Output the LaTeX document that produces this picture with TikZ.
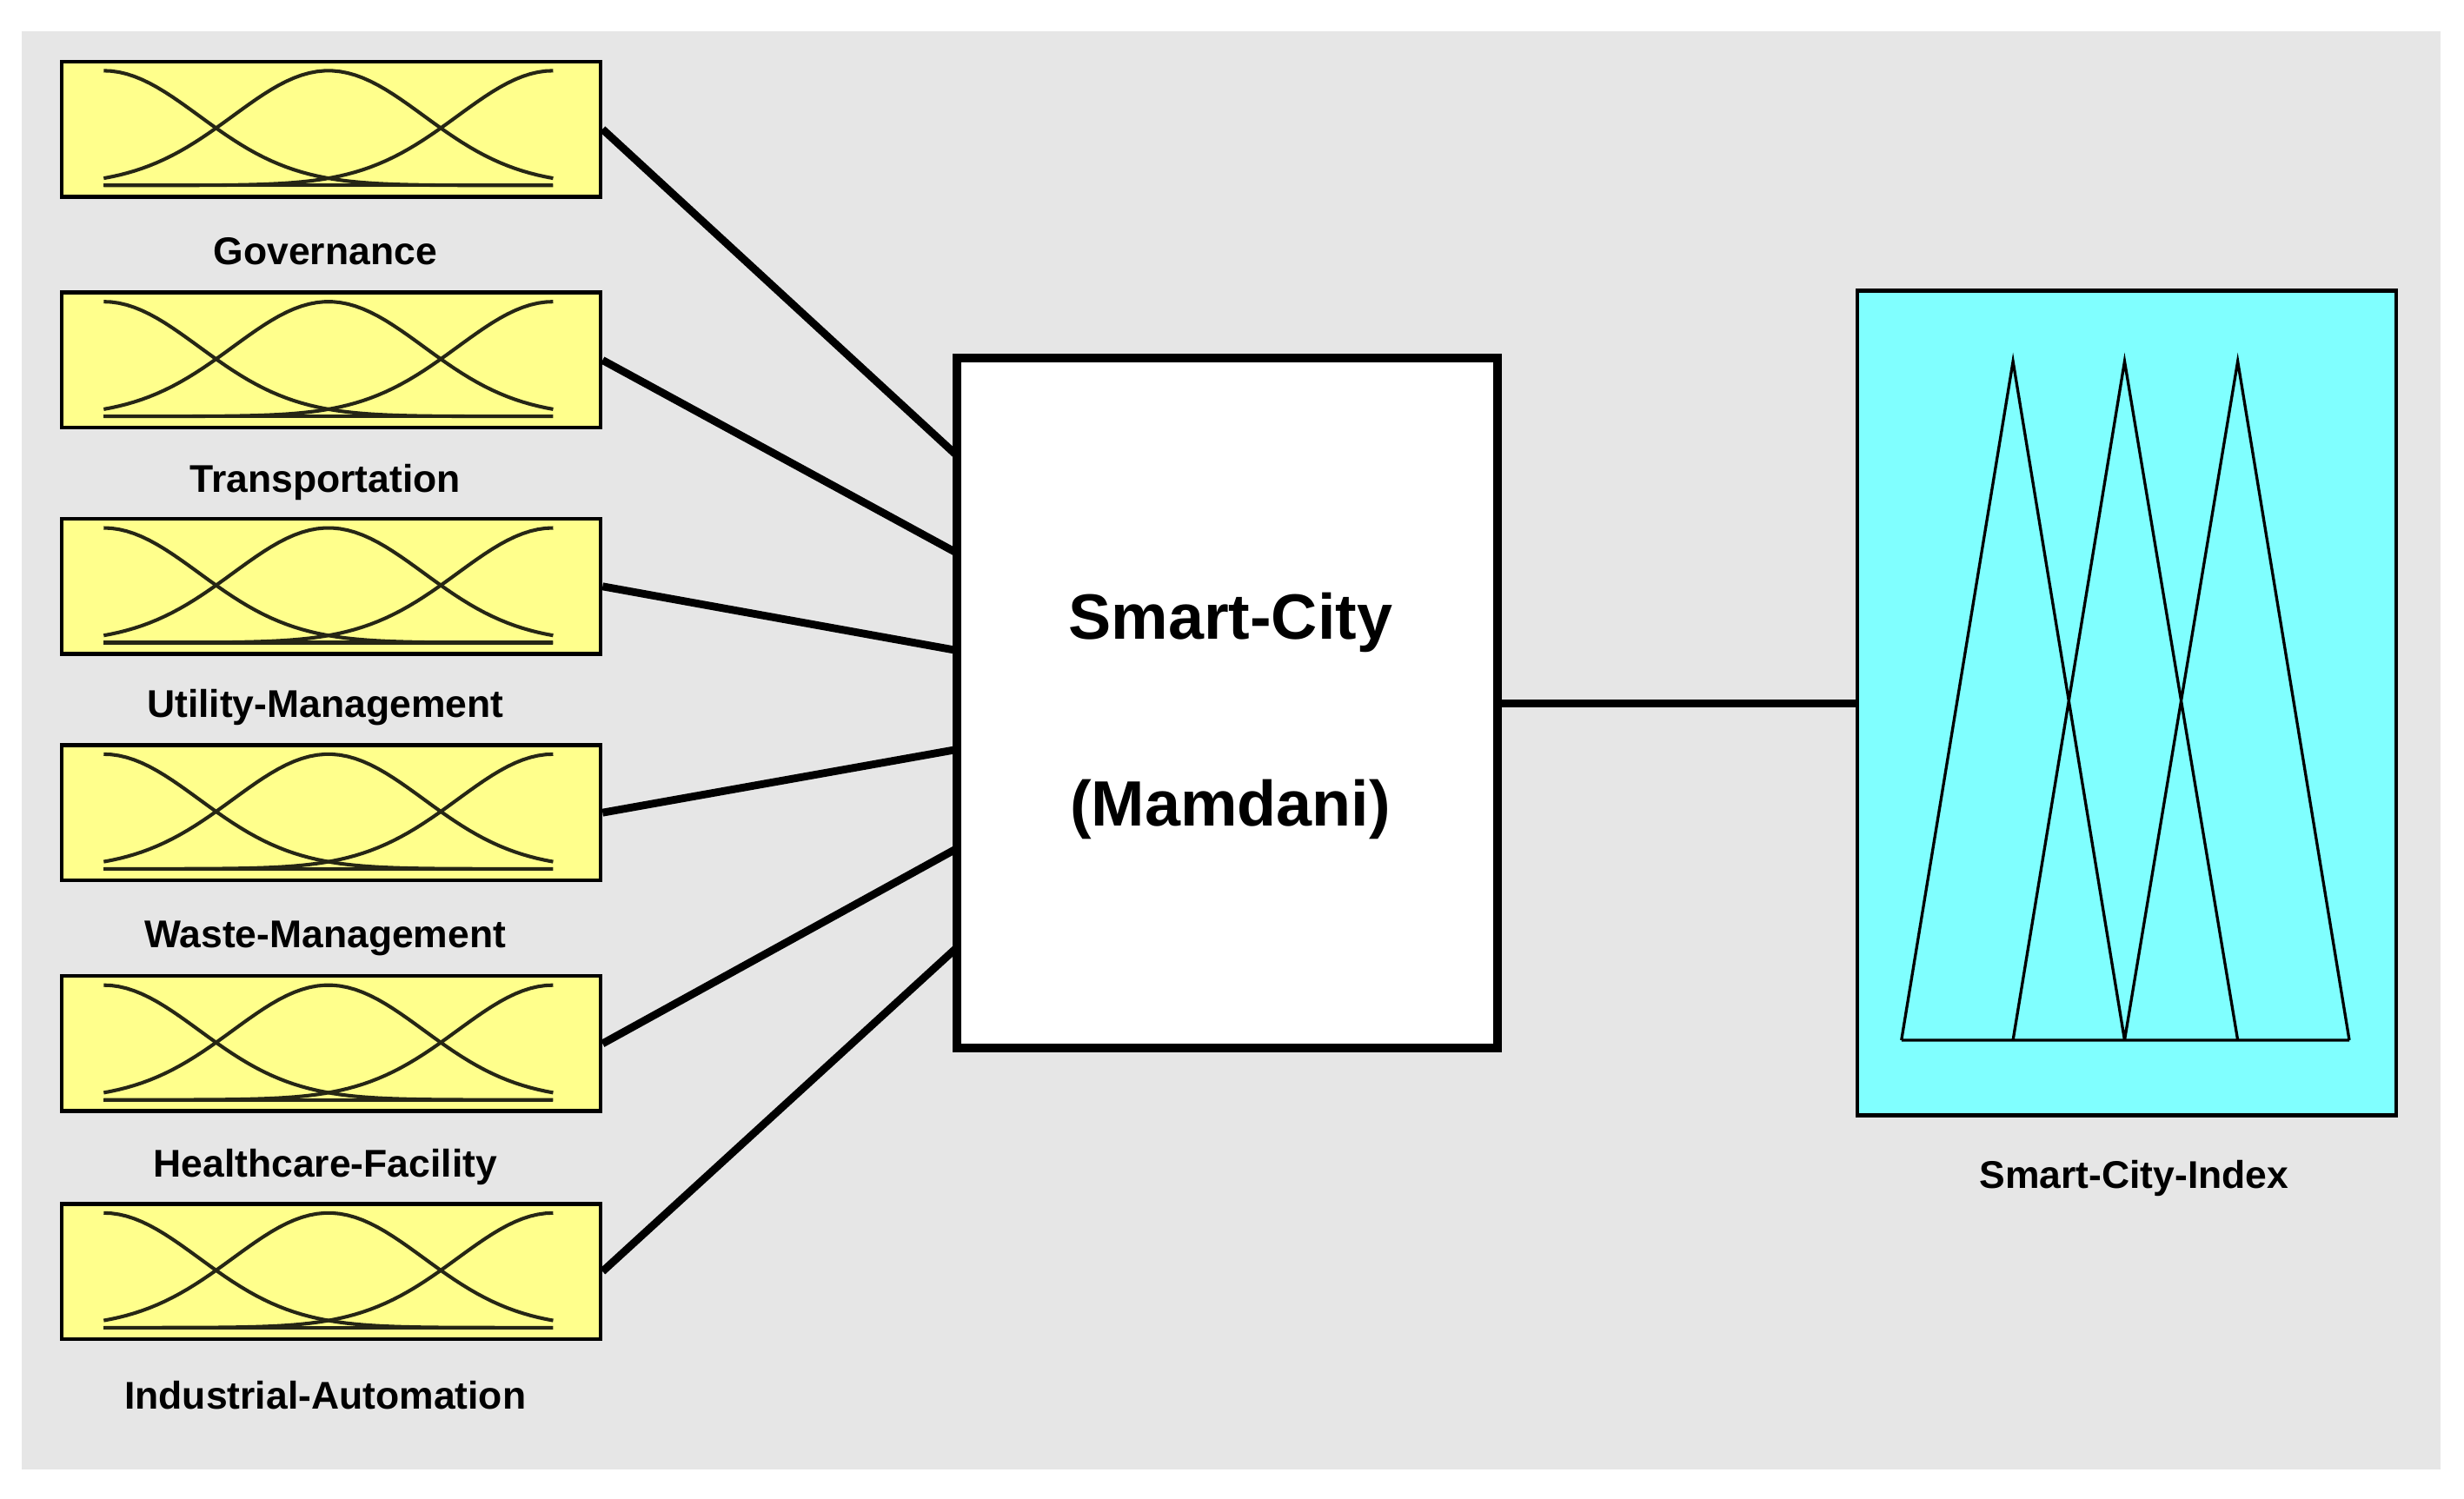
\documentclass[tikz,border=0pt]{standalone}
\usepackage{fontspec}
\setmainfont{Liberation Sans}
\definecolor{bg}{HTML}{E6E6E6}
\definecolor{mfy}{HTML}{FFFF8C}
\definecolor{mfc}{HTML}{80FFFF}
\begin{document}
\begin{tikzpicture}[x=0.05cm,y=-0.05cm,
  inbox/.style={draw=black,line width=3.5pt,fill=mfy,minimum width=17.15cm,minimum height=4.3cm,inner sep=0pt,anchor=north west},
  lbl/.style={font=\bfseries\fontsize{35}{40}\selectfont,inner sep=0pt},
  conn/.style={line width=7pt},
  mf/.style={line width=3.2pt,black!85!mfy}]
\useasboundingbox (0,0) rectangle (1568,954);
\fill[bg] (14,20) rectangle (1553,935);
\foreach \n/\y/\t/\ly [count=\i] in {g/38/Governance/160,t/185/Transportation/307,u/329/Utility-Management/450,w/473/Waste-Management/597,h/620/Healthcare-Facility/743,ia/765/Industrial-Automation/888}{
  \node[inbox] (\n) at (38,\y) {};
  \begin{scope}[shift={(0,\y)}]
    \draw[mf,domain=66:352,samples=60] plot (\x,{80-73*exp(-0.5*pow((\x-66)/60.7,2))});
    \draw[mf,domain=66:352,samples=60] plot (\x,{80-73*exp(-0.5*pow((\x-209)/60.7,2))});
    \draw[mf,domain=66:352,samples=60] plot (\x,{80-73*exp(-0.5*pow((\x-352)/60.7,2))});
    \draw[mf] (66,80) -- (352,80);
  \end{scope}
  \node[lbl] (l\n) at (207,\ly) {\t};
}
\node[draw=black,line width=8pt,fill=white,minimum width=17.2cm,minimum height=21.95cm,inner sep=0pt] (c) at (781,447.5) {};
\node[font=\bfseries\fontsize{58}{64}\selectfont] (c1) at (783,396) {Smart-City};
\node[font=\bfseries\fontsize{58}{64}\selectfont] (c2) at (783,515) {(Mamdani)};
\node[draw=black,line width=3.5pt,fill=mfc,minimum width=17.15cm,minimum height=26.25cm,inner sep=0pt] (o) at (1353.5,447.5) {};
\node[lbl] (lo) at (1358,750) {Smart-City-Index};
\draw[line width=2.6pt] (1210,662) -- (1281,230) -- (1352,662) (1281,662) -- (1352,230) -- (1424,662) (1352,662) -- (1424,230) -- (1495,662) (1210,662) -- (1495,662);
\coordinate (p1) at (609,290); \coordinate (p2) at (609,352); \coordinate (p3) at (609,414);
\coordinate (p4) at (609,477); \coordinate (p5) at (609,540); \coordinate (p6) at (609,603);
\draw[conn] (g.east) -- (p1);
\draw[conn] (t.east) -- (p2);
\draw[conn] (u.east) -- (p3);
\draw[conn] (w.east) -- (p4);
\draw[conn] (h.east) -- (p5);
\draw[conn] (ia.east) -- (p6);
\draw[conn] (c.east) -- (o.west);
\end{tikzpicture}
\end{document}
